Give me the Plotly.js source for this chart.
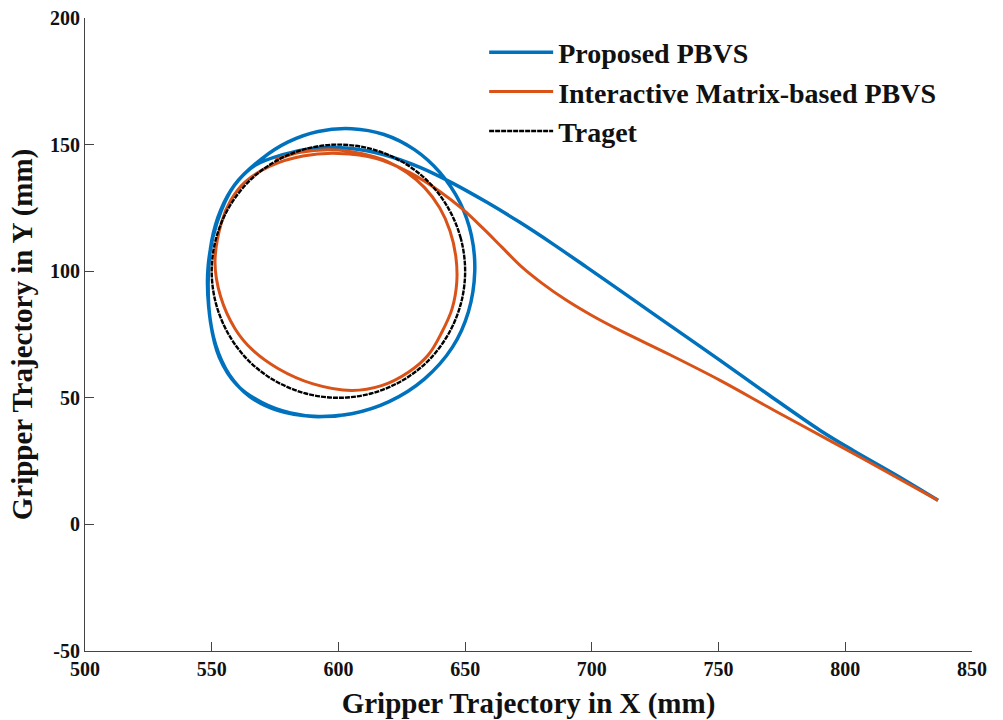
<!DOCTYPE html>
<html>
<head>
<meta charset="utf-8">
<script src="https://cdn.plot.ly/plotly-3.0.1.min.js"></script>
<style>html,body{margin:0;padding:0;background:#fff;}#chart{width:1003px;height:720px;}</style>
</head>
<body>
<div id="chart"></div>
<script>
// Proposed PBVS trajectory (mm)
const proposedX = [836.6,820,803.1,790.1,770,750.6,730.8,711.1,697.9,684.7,671.6,658.6,645,632.2,618,605.2,590,578,567.1,559,553.5,550,548.6,549.5,553,560,570,581,592,605.2,620,634,645,651.3,653.8,652.5,648,640,630,618,605.2,592,580,569.7,559,552,548.6,548.8,551.5,557,565,576,590,603];
const proposedY = [9.5,19.5,29.2,37.1,51,64.8,78.6,92.4,101.6,110.7,119.3,127.2,134.8,141,146,148.5,148.5,146,141.8,134,124,112,96,80,66,55,48,44,42.6,43.7,48.5,57.5,70,84,100,114,127,139,148,154,156.3,155.2,151,144.4,134,119,102,86,71,59,50.5,45,42.6,43.3];

// Interactive Matrix-based PBVS trajectory (mm)
const imX = [836.6,815,795,772,750.6,730.8,711.1,700,690,680,672,664.5,657,649,640,628,615,600,586,573,563.1,557.5,553.9,551.3,553.5,559.2,566,576.3,590,605.2,617,627.6,635.5,640.8,644.8,646.7,646.3,644,640,634,627,619,609,597,585,575];
const imY = [9.5,21.5,32.5,45,56.9,67,76.6,82.5,88.5,95.5,102,109.5,117,124.5,131.5,139,144.5,146.5,145.5,141.5,135.2,128,119.4,103.6,90,77.3,69,61.5,55.5,52.9,54.8,60.1,67,75.9,85,95.7,106,116,125,133,139,143.5,146.5,148,147,144];

// Target circle (mm)
const targetX = [650,648.3,643.3,635.4,625,612.9,600,587.1,575,564.6,556.7,551.7,550,551.7,556.7,564.6,575,587.1,600,612.9,625,635.4,643.3,648.3,650];
const targetY = [100,112.9,125,135.4,143.3,148.3,150,148.3,143.3,135.4,125,112.9,100,87.1,75,64.6,56.7,51.7,50,51.7,56.7,64.6,75,87.1,100];

const xTicks = [500,550,600,650,700,750,800,850];
const yTicks = [-50,0,50,100,150,200];

const FONT = '"Liberation Serif","Times New Roman",serif';

const traces = [
  {x: proposedX, y: proposedY, mode:'lines', name:'<b>Proposed PBVS</b>',
   line:{color:'#0072BD', width:3.5, shape:'spline', smoothing:1}},
  {x: imX, y: imY, mode:'lines', name:'<b>Interactive Matrix-based PBVS</b>',
   line:{color:'#D95319', width:3, shape:'spline', smoothing:1}},
  {x: targetX, y: targetY, mode:'lines', name:'<b>Traget</b>',
   line:{color:'#000000', width:2.4, dash:'5px,1px', shape:'spline', smoothing:1}}
];

const axisCommon = {
  showline:true, linecolor:'#444', linewidth:1,
  ticks:'inside', ticklen:9, tickcolor:'#444', tickwidth:1,
  showgrid:false, zeroline:false, mirror:false,
  tickfont:{family:FONT, size:20, color:'#111', weight:700}
};

const layout = {
  width:1003, height:720,
  margin:{l:85, r:31, t:18, b:69},
  paper_bgcolor:'#fff', plot_bgcolor:'#fff',
  font:{family:FONT, color:'#111'},
  showlegend:true,
  legend:{x:0.45, y:0.985, xanchor:'left', yanchor:'top',
    font:{family:FONT, size:28, color:'#111'}, bgcolor:'rgba(0,0,0,0)',
    tracegroupgap:0, itemwidth:64},
  xaxis:Object.assign({}, axisCommon, {
    range:[500,850], tickvals:xTicks, ticktext:xTicks.map(v => '<b>' + v + '</b>'),
    title:{text:'<b>Gripper Trajectory in X (mm)</b>', font:{family:FONT, size:29, color:'#111'}, standoff:14}
  }),
  yaxis:Object.assign({}, axisCommon, {
    range:[-50,200], tickvals:yTicks, ticktext:yTicks.map(v => '<b>' + v + '</b>'),
    title:{text:'<b>Gripper Trajectory in Y (mm)</b>', font:{family:FONT, size:29, color:'#111'}, standoff:8}
  })
};

Plotly.newPlot('chart', traces, layout, {staticPlot:true, displayModeBar:false});
</script>
</body>
</html>
